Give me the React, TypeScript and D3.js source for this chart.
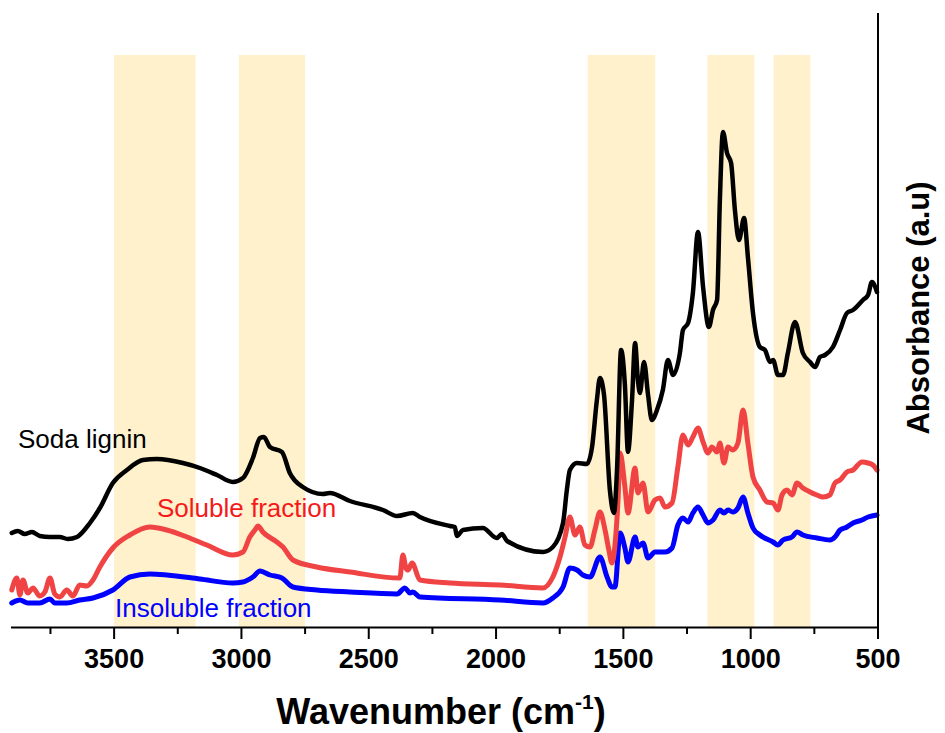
import React from "react";
import * as d3 from "d3";

const blackWn = [3902,3878,3851,3823,3792,3752,3713,3682,3646,3595,3556,3505,3450,3387,3332,3230,3163,3096,3034,2994,2955,2927,2912,2888,2841,2810,2759,2680,2653,2574,2444,2389,2327,2299,2181,2162,2154,2130,2052,1997,1977,1957,1816,1777,1737,1722,1710,1682,1643,1623,1604,1592,1576,1553,1537,1525,1509,1494,1482,1466,1454,1443,1435,1419,1403,1388,1368,1345,1325,1305,1278,1266,1246,1227,1207,1187,1164,1148,1132,1121,1109,1093,1077,1062,1046,1026,1011,991,964,944,924,912,893,873,854,826,795,767,747,728,708,677,649,622,598,559,539,524,504];
const blackAbs = [0.94,0.96,0.93,0.95,0.91,0.90,0.90,0.88,0.90,1.04,1.19,1.44,1.57,1.67,1.68,1.64,1.59,1.52,1.45,1.49,1.69,1.89,1.90,1.80,1.75,1.54,1.40,1.33,1.34,1.26,1.17,1.11,1.14,1.10,1.01,1.00,0.91,0.97,0.99,0.89,0.93,0.86,0.75,0.80,1.04,1.37,1.57,1.64,1.63,1.80,2.27,2.49,2.32,1.37,1.14,1.57,2.77,2.42,1.75,2.27,2.84,2.47,2.34,2.65,2.32,2.07,2.17,2.37,2.67,2.52,2.74,2.97,3.04,3.34,3.95,3.40,3.00,3.17,3.27,4.27,4.95,4.74,4.64,4.17,3.87,4.09,3.70,3.14,2.80,2.77,2.65,2.67,2.52,2.52,2.74,3.05,2.74,2.65,2.60,2.70,2.72,2.80,2.97,3.14,3.17,3.27,3.32,3.45,3.35];

const redWn = [3902,3882,3870,3858,3839,3819,3792,3772,3752,3733,3713,3686,3662,3635,3607,3583,3556,3505,3438,3360,3293,3214,3136,3034,2994,2967,2947,2935,2916,2861,2837,2798,2704,2574,2378,2366,2354,2346,2330,2299,2181,1985,1816,1777,1749,1729,1710,1690,1671,1651,1631,1612,1592,1572,1557,1545,1533,1521,1513,1494,1482,1454,1443,1423,1403,1376,1356,1337,1309,1286,1266,1246,1227,1207,1187,1168,1152,1132,1121,1105,1089,1070,1050,1030,1011,991,964,936,912,893,877,857,838,818,795,767,740,716,689,669,649,622,598,563,539,520,504];
const redAbs = [0.37,0.49,0.32,0.47,0.34,0.39,0.31,0.35,0.49,0.33,0.30,0.37,0.31,0.42,0.41,0.47,0.60,0.79,0.92,1.00,0.97,0.90,0.82,0.72,0.75,0.90,0.97,1.01,0.95,0.85,0.80,0.67,0.60,0.55,0.49,0.72,0.59,0.57,0.64,0.47,0.44,0.42,0.39,0.50,0.70,0.90,1.10,0.92,1.00,0.82,0.80,0.97,1.15,0.97,0.77,0.64,0.82,1.27,1.74,1.40,1.14,1.59,1.34,1.44,1.15,1.27,1.29,1.20,1.24,1.60,1.92,1.82,1.90,1.99,1.85,1.74,1.80,1.75,1.84,1.64,1.80,1.77,1.84,2.17,1.84,1.50,1.37,1.25,1.24,1.17,1.32,1.37,1.32,1.44,1.39,1.35,1.32,1.30,1.32,1.44,1.47,1.55,1.57,1.65,1.64,1.62,1.57];

const blueWn = [3902,3870,3839,3792,3752,3733,3686,3635,3583,3505,3438,3360,3293,3163,3034,2994,2955,2927,2888,2841,2798,2704,2574,2389,2358,2338,2327,2299,1985,1816,1777,1737,1710,1682,1659,1631,1592,1564,1545,1533,1513,1494,1482,1454,1443,1423,1403,1376,1337,1309,1286,1266,1246,1227,1207,1187,1168,1148,1121,1105,1089,1070,1050,1030,1011,991,964,912,893,873,838,818,795,740,689,669,649,622,598,563,539,504];
const blueAbs = [0.24,0.27,0.24,0.24,0.28,0.24,0.24,0.27,0.29,0.37,0.50,0.53,0.52,0.48,0.44,0.45,0.50,0.56,0.52,0.49,0.40,0.37,0.35,0.33,0.39,0.34,0.35,0.30,0.27,0.24,0.29,0.40,0.59,0.57,0.52,0.50,0.70,0.50,0.40,0.40,0.94,0.79,0.65,0.90,0.80,0.84,0.69,0.75,0.75,0.79,1.02,1.09,1.05,1.14,1.20,1.12,1.04,1.07,1.17,1.14,1.17,1.15,1.19,1.30,1.14,0.99,0.92,0.85,0.82,0.87,0.90,0.95,0.92,0.89,0.87,0.90,0.97,1.00,1.04,1.07,1.10,1.12];

const bandStart = [3500, 3010, 1640, 1170, 910];
const bandEnd = [3180, 2750, 1375, 985, 765];
const bandTop = 5.72;

const majorTicks = [3500, 3000, 2500, 2000, 1500, 1000, 500];
const minorTicks = [3750, 3250, 2750, 2250, 1750, 1250, 750];

const seriesNames = ["Soda lignin", "Soluble fraction", "Insoluble fraction"];

const FONT = "'Liberation Sans', Arial, Helvetica, sans-serif";

export default function App() {
  const W = 945, H = 733;
  const x = d3.scaleLinear().domain([3905, 500]).range([11, 878]);
  const y = d3.scaleLinear().domain([0, 6.15]).range([627, 12]);

  const mk = (wn: number[], ab: number[]) =>
    d3.line<number>()
      .x((_, i) => x(wn[i]))
      .y((d) => y(d))
      .curve(d3.curveMonotoneX)(ab) || "";

  const series = [
    { path: mk(blueWn, blueAbs), color: "#0000ff", w: 5 },
    { path: mk(redWn, redAbs), color: "#f04444", w: 5 },
    { path: mk(blackWn, blackAbs), color: "#000000", w: 4.5 },
  ];

  return (
    <svg width={W} height={H} style={{ position: "absolute", left: 0, top: 0, background: "#fff" }}>
      <rect x={0} y={0} width={W} height={H} fill="#ffffff" />
      {bandStart.map((b, i) => (
        <rect key={i} x={x(b)} y={y(bandTop)} width={x(bandEnd[i]) - x(b)} height={y(0) - y(bandTop)} fill="#fff1cc" />
      ))}
      {series.map((s, i) => (
        <path key={i} d={s.path} fill="none" stroke={s.color} strokeWidth={s.w} strokeLinejoin="round" strokeLinecap="round" />
      ))}
      <line x1={x.range()[0]} x2={x.range()[1] + 1} y1={627.5} y2={627.5} stroke="#000" strokeWidth={2} />
      <line x1={878} x2={878} y1={13} y2={628} stroke="#000" strokeWidth={2} />
      {majorTicks.map((t) => (
        <line key={"M" + t} x1={x(t)} x2={x(t)} y1={627} y2={639} stroke="#000" strokeWidth={2} />
      ))}
      {minorTicks.map((t) => (
        <line key={"m" + t} x1={x(t)} x2={x(t)} y1={627} y2={634} stroke="#000" strokeWidth={2} />
      ))}
      {majorTicks.map((t) => (
        <text key={"L" + t} x={x(t)} y={668} textAnchor="middle" fontFamily={FONT} fontWeight="bold" fontSize={27} fill="#000">
          {t}
        </text>
      ))}
      <text x={441} y={724} textAnchor="middle" fontFamily={FONT} fontWeight="bold" fontSize={36} fill="#000">
        Wavenumber (cm<tspan fontSize={21} dy={-15}>-1</tspan><tspan dy={15}>)</tspan>
      </text>
      <text transform="translate(929,308) rotate(-90)" textAnchor="middle" fontFamily={FONT} fontWeight="bold" fontSize={31} fill="#000">
        Absorbance (a.u)
      </text>
      <text x={18} y={448} fontFamily={FONT} fontSize={26} fill="#000">{seriesNames[0]}</text>
      <text x={157} y={517} fontFamily={FONT} fontSize={26} fill="#f51a1a">{seriesNames[1]}</text>
      <text x={115} y={617} fontFamily={FONT} fontSize={26} fill="#0000ff">{seriesNames[2]}</text>
    </svg>
  );
}
